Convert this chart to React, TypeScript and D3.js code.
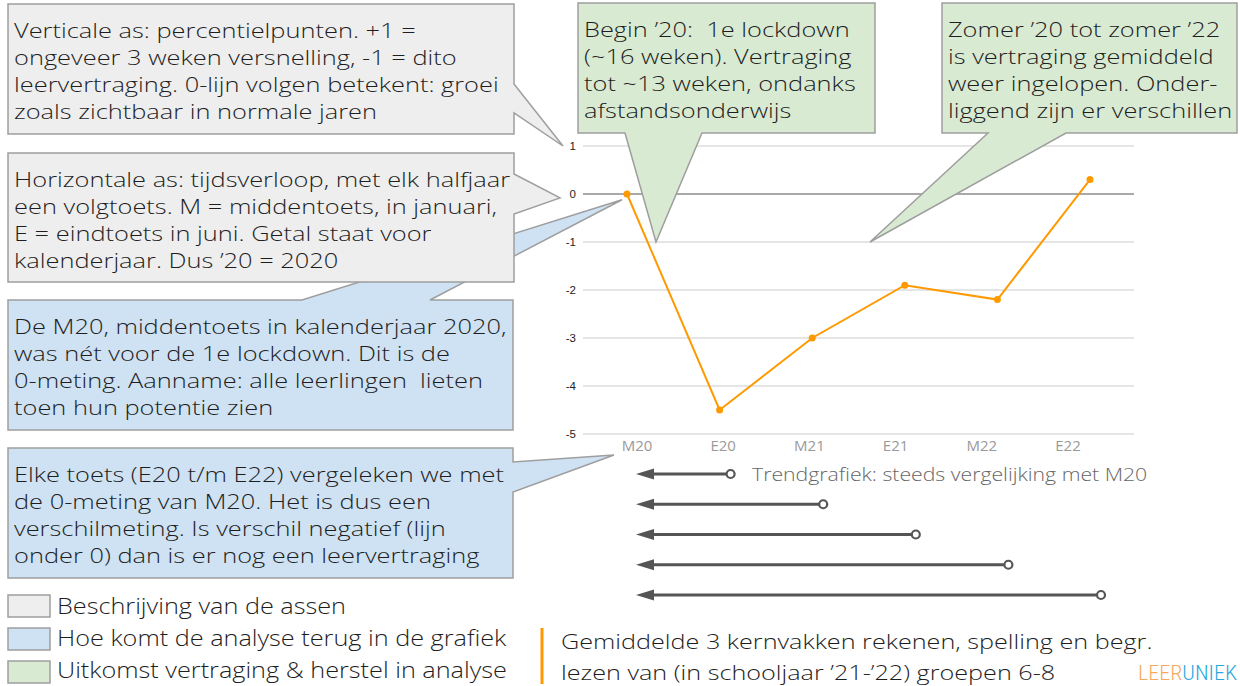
import React from 'react'
import * as d3 from 'd3'

const categories = ['M20', 'E20', 'M21', 'E21', 'M22', 'E22']
const values = [0, -4.5, -3, -1.9, -2.2, 0.3]
const yTicks = [1, 0, -1, -2, -3, -4, -5]
const trendEnds = ['E20', 'M21', 'E21', 'M22', 'E22']

const grayA = [
  'Verticale as: percentielpunten. +1 =',
  'ongeveer 3 weken versnelling, -1 = dito',
  'leervertraging. 0-lijn volgen betekent: groei',
  'zoals zichtbaar in normale jaren',
]
const grayB = [
  'Horizontale as: tijdsverloop, met elk halfjaar',
  'een volgtoets. M = middentoets, in januari,',
  'E = eindtoets in juni. Getal staat voor',
  'kalenderjaar. Dus ’20 = 2020',
]
const blueA = [
  'De M20, middentoets in kalenderjaar 2020,',
  'was nét voor de 1e lockdown. Dit is de',
  '0-meting. Aanname: alle leerlingen  lieten',
  'toen hun potentie zien',
]
const blueB = [
  'Elke toets (E20 t/m E22) vergeleken we met',
  'de 0-meting van M20. Het is dus een',
  'verschilmeting. Is verschil negatief (lijn',
  'onder 0) dan is er nog een leervertraging',
]
const greenA = ['Begin ’20:  1e lockdown', '(~16 weken). Vertraging', 'tot ~13 weken, ondanks', 'afstandsonderwijs']
const greenB = ['Zomer ’20 tot zomer ’22', 'is vertraging gemiddeld', 'weer ingelopen. Onder-', 'liggend zijn er verschillen']

const legendItems = ['Beschrijving van de assen', 'Hoe komt de analyse terug in de grafiek', 'Uitkomst vertraging & herstel in analyse']
const seriesNote = ['Gemiddelde 3 kernvakken rekenen, spelling en begr.', 'lezen van (in schooljaar ’21-’22) groepen 6-8']

const GRAY = '#eeeeee'
const BLUE = '#cfe2f3'
const GREEN = '#d9ead3'
const EDGE = '#9e9e9e'
const ORANGE = '#ff9900'
const INK = '#1e1e1e'
const FONT = '"Open Sans", "Noto Sans", sans-serif'

type Tail = { side: 'right' | 'bottom' | 'top'; a: number; b: number; tip: [number, number] }
type Box = { x0: number; y0: number; x1: number; y1: number; fill: string; lines: string[]; tail: Tail }

// rectangle + speech tail as one closed outline
function calloutPath(bx: Box): string {
  const { x0, y0, x1, y1, tail } = bx
  let pts: [number, number][] = []
  if (tail.side === 'right') {
    pts = [[x0, y0], [x1, y0], [x1, tail.a], tail.tip, [x1, tail.b], [x1, y1], [x0, y1]]
  } else if (tail.side === 'bottom') {
    pts = [[x0, y0], [x1, y0], [x1, y1], [tail.b, y1], tail.tip, [tail.a, y1], [x0, y1]]
  } else {
    pts = [[x0, y0], [tail.a, y0], tail.tip, [tail.b, y0], [x1, y0], [x1, y1], [x0, y1]]
  }
  return 'M' + pts.map((p) => p.join(',')).join('L') + 'Z'
}

// wide geometric look of the slide font: stretch horizontally
function Wide({ x, y, sx, size, fill = INK, children }: { x: number; y: number; sx: number; size: number; fill?: string; children: React.ReactNode }) {
  return (
    <text
      transform={`translate(${x},${y}) scale(${sx},1)`}
      fontSize={size}
      fontWeight={300}
      fill={fill}
      xmlSpace="preserve"
    >
      {children}
    </text>
  )
}

export default function App() {
  const y = d3.scaleLinear().domain([-5, 1]).range([434, 146])
  const xLabel = d3.scalePoint<string>().domain(categories).range([637, 1068])
  const xLine = d3.scalePoint<string>().domain(categories).range([627, 1090])
  const gridX0 = 583
  const gridX1 = 1134

  const pts = categories.map((c, i) => ({ c, v: values[i] }))
  const line = d3
    .line<{ c: string; v: number }>()
    .x((d) => xLine(d.c) as number)
    .y((d) => y(d.v))

  const boxes: Box[] = [
    { x0: 8, y0: 300, x1: 513, y1: 430, fill: BLUE, lines: blueA, tail: { side: 'top', a: 302, b: 430, tip: [622, y(-0.12)] } },
    { x0: 8, y0: 4, x1: 514, y1: 134, fill: GRAY, lines: grayA, tail: { side: 'right', a: 84, b: 113, tip: [563, y(1)] } },
    { x0: 8, y0: 153, x1: 514, y1: 282, fill: GRAY, lines: grayB, tail: { side: 'right', a: 174, b: 214, tip: [560, y(-0.08)] } },
    { x0: 8, y0: 448, x1: 513, y1: 578, fill: BLUE, lines: blueB, tail: { side: 'right', a: 462, b: 492, tip: [614, 455] } },
    { x0: 578, y0: 3, x1: 875, y1: 133, fill: GREEN, lines: greenA, tail: { side: 'bottom', a: 625, b: 702, tip: [656, y(-1)] } },
    { x0: 942, y0: 3, x1: 1237, y1: 133, fill: GREEN, lines: greenB, tail: { side: 'bottom', a: 988, b: 1066, tip: [870, y(-1)] } },
  ]

  const legendFills = [GRAY, BLUE, GREEN]
  const trendRow = d3.scalePoint<string>().domain(trendEnds).range([474, 595])

  return (
    <svg
      width={1240}
      height={686}
      style={{ position: 'fixed', left: 0, top: 0, background: '#fff' }}
      fontFamily={FONT}
    >
      <rect width={1240} height={686} fill="#fff" />

      {/* grid + y ticks */}
      {yTicks.map((t) => (
        <g key={t}>
          <line
            x1={gridX0}
            x2={gridX1}
            y1={y(t)}
            y2={y(t)}
            stroke={t === 0 ? '#555' : '#dcdcdc'}
            strokeWidth={t === 0 ? 1.2 : 1.5}
          />
          <text
            x={576}
            y={y(t)}
            dy="0.35em"
            textAnchor="end"
            fontSize={11.5}
            fontFamily="Liberation Sans, Arial, sans-serif"
            fill="#222"
          >
            {t}
          </text>
        </g>
      ))}

      {/* x labels */}
      {categories.map((c) => (
        <text key={c} x={xLabel(c)} y={451} textAnchor="middle" fontSize={15} fill="#9a9a9a">
          {c}
        </text>
      ))}

      {/* series */}
      <path d={line(pts) || ''} fill="none" stroke={ORANGE} strokeWidth={2} />
      {pts.map((d) => (
        <circle key={d.c} cx={xLine(d.c)} cy={y(d.v)} r={3.5} fill={ORANGE} />
      ))}

      {/* trend arrows, each end compared with M20 */}
      {trendEnds.map((c) => {
        const ry = trendRow(c) as number
        const x0 = 636
        const x1 = (xLine(c) as number) + 11
        return (
          <g key={c}>
            <line x1={x0 + 12} x2={x1} y1={ry} y2={ry} stroke="#555" strokeWidth={3} />
            <path d={`M${x0},${ry}L${x0 + 18},${ry - 5.5}L${x0 + 18},${ry + 5.5}Z`} fill="#555" />
            <circle cx={x1} cy={ry} r={4} fill="#fff" stroke="#555" strokeWidth={2.2} />
          </g>
        )
      })}
      <Wide x={752} y={481} sx={1.18} size={18} fill="#666">
        Trendgrafiek: steeds vergelijking met M20
      </Wide>

      {/* callouts */}
      {boxes.map((b, i) => (
        <g key={i}>
          <path d={calloutPath(b)} fill={b.fill} stroke={EDGE} strokeWidth={1.5} strokeLinejoin="miter" />
          {b.lines.map((l, j) => (
            <Wide key={j} x={b.x0 + 6} y={b.y0 + 34 + j * 27} sx={1.21} size={21}>
              {l}
            </Wide>
          ))}
        </g>
      ))}

      {/* legend */}
      {legendItems.map((l, i) => (
        <g key={l}>
          <rect x={8} y={595 + i * 33} width={42} height={22} fill={legendFills[i]} stroke={EDGE} strokeWidth={1.5} />
          <Wide x={57} y={614 + i * 32} sx={1.175} size={21.5}>
            {l}
          </Wide>
        </g>
      ))}

      <line x1={542} x2={542} y1={628} y2={684} stroke={ORANGE} strokeWidth={3} />
      {seriesNote.map((l, i) => (
        <Wide key={i} x={561} y={649 + i * 31} sx={1.2} size={21}>
          {l}
        </Wide>
      ))}

      <text
        x={1138}
        y={680}
        fontSize={21}
        fontWeight={300}
        fontFamily='"Liberation Sans Narrow", "Roboto Condensed", Roboto, sans-serif'
        textLength={99}
        lengthAdjust="spacingAndGlyphs"
      >
        <tspan fill="#f5a960">LEER</tspan>
        <tspan fill="#2aa8e0">UNIEK</tspan>
      </text>
    </svg>
  )
}
